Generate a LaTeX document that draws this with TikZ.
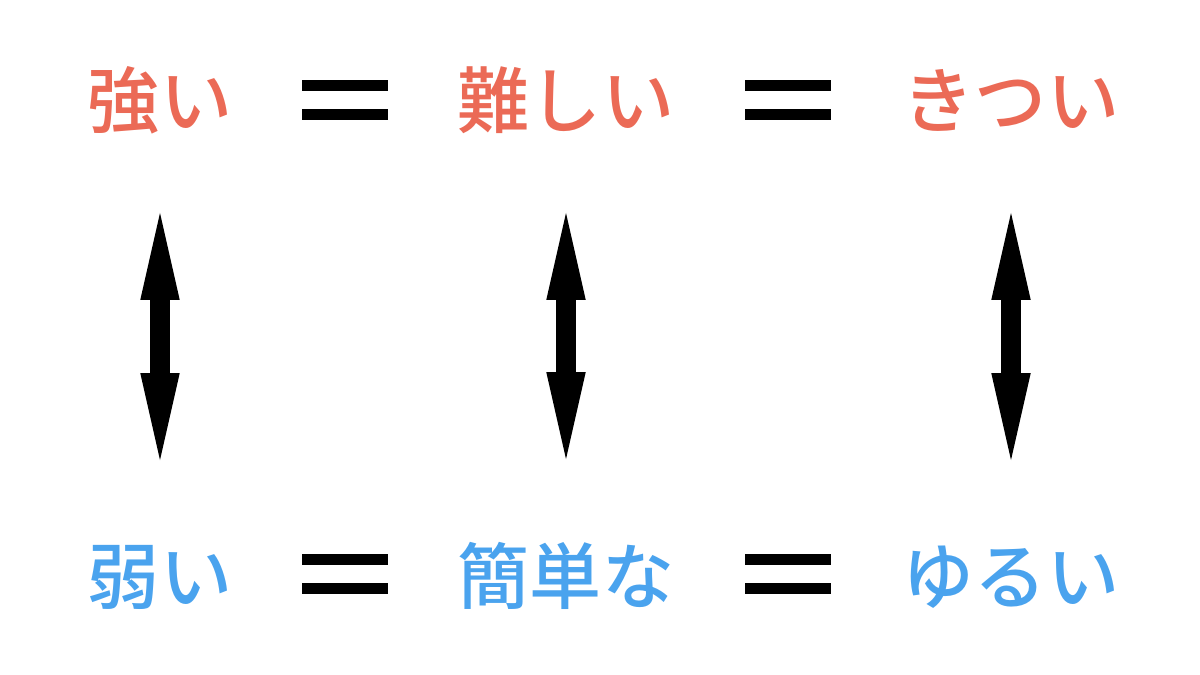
\documentclass[tikz,border=0pt]{standalone}
\usepackage{fontspec}
\newfontfamily\cjk{Noto Sans CJK JP}[UprightFont={* Medium}]
\usepackage{tikz}
\usetikzlibrary{arrows.meta}
\definecolor{hardred}{HTML}{EB6A56}
\definecolor{softblue}{HTML}{4AA3EE}
\tikzstyle{hardword}=[text=hardred, inner sep=0pt, font=\cjk\fontsize{41}{41}\selectfont]
\tikzstyle{softword}=[text=softblue, inner sep=0pt, font=\cjk\fontsize{41}{41}\selectfont]
\tikzstyle{pairarrow}=[line width=0.39cm, {Triangle[length=1.74cm,width=0.79cm,line width=0pt]}-{Triangle[length=1.74cm,width=0.79cm,line width=0pt]}, shorten <=2.26cm, shorten >=2.34cm]

\begin{document}
\begin{tikzpicture}[x=0.02cm,y=-0.02cm]
\useasboundingbox (0,0) rectangle (1200,674);
%Top row
\node[hardword] (strong) at (160,100){強い};
\node[hardword] (hard) at (566,100){難しい};
\node[hardword] (tight) at (1011,100){きつい};
%Bottom row
\node[softword] (weak) at (160,577){弱い};
\node[softword] (easy) at (566,576){簡単な};
\node[softword] (loose) at (1011,577){ゆるい};
%Equal signs
\foreach \x/\y in {345/100, 788/100, 345/574, 788/574}{
\fill (\x-43,\y-20) rectangle (\x+43,\y-9);
\fill (\x-43,\y+9) rectangle (\x+43,\y+20);
}
%Arrows
\draw[pairarrow] (strong.center) -- (weak.center);
\draw[pairarrow] (hard.center) -- (easy.center);
\draw[pairarrow] (tight.center) -- (loose.center);
\end{tikzpicture}
\end{document}
